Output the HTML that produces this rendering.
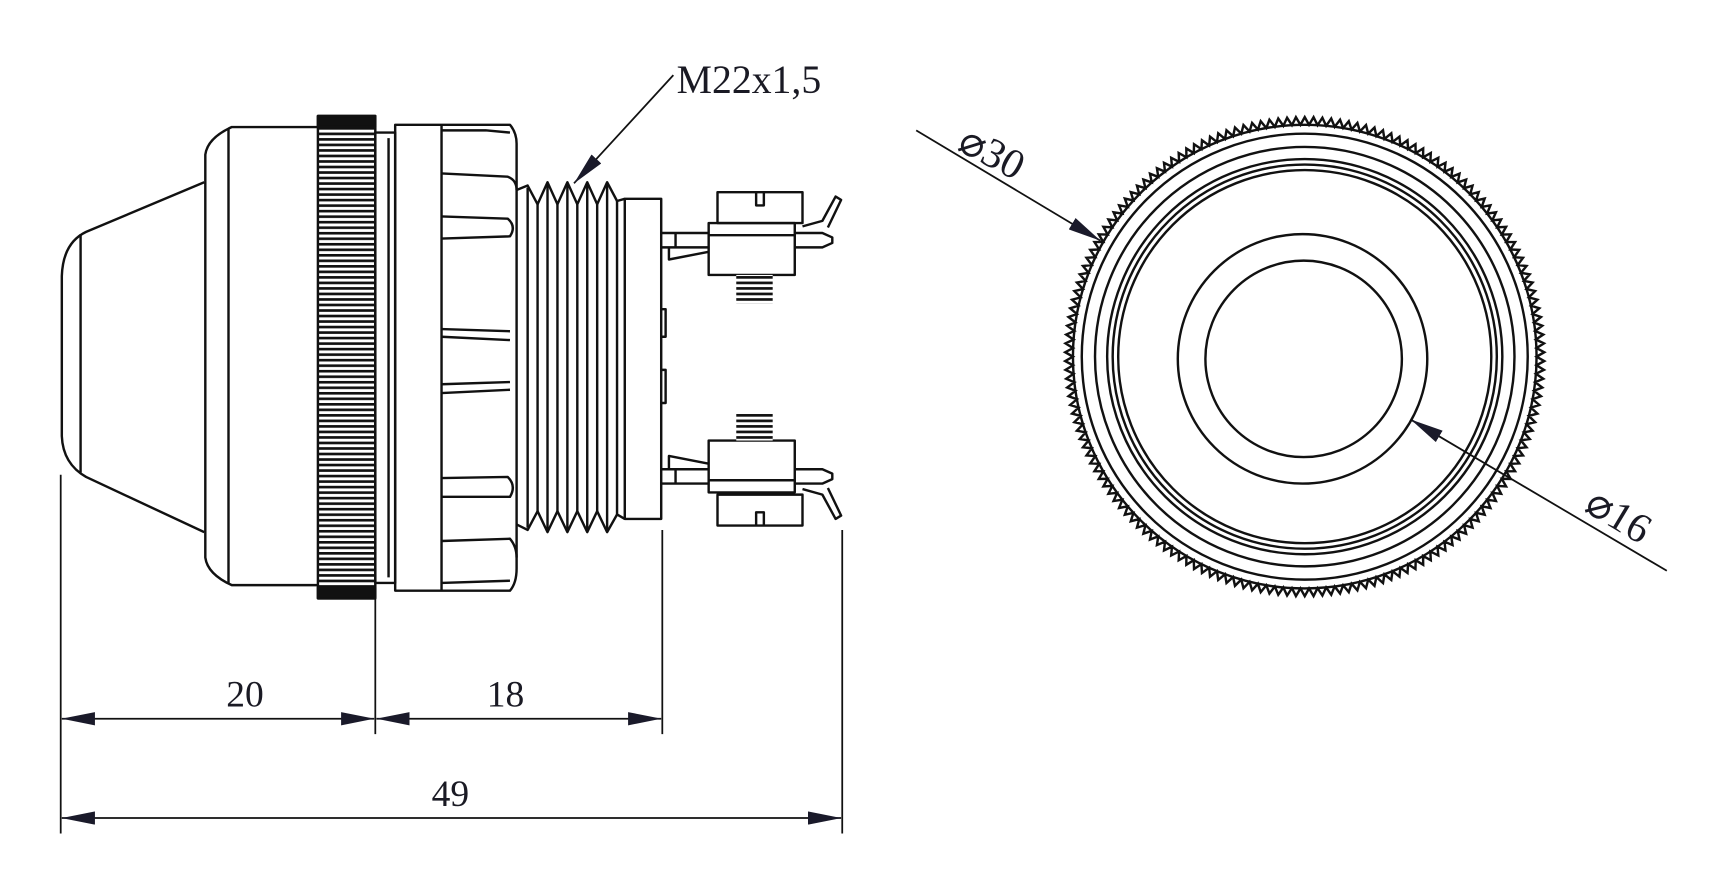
<!DOCTYPE html>
<html><head><meta charset="utf-8">
<style>
html,body{margin:0;padding:0;background:#fff;}
svg{display:block;}
text{font-family:"Liberation Serif",serif;fill:#1a1a24;}
</style></head>
<body>
<svg id="s" width="1722" height="891" viewBox="0 0 1560 807" xmlns="http://www.w3.org/2000/svg">
<defs>
<pattern id="kn" x="0" y="0" width="10" height="5" patternUnits="userSpaceOnUse">
<rect width="10" height="5" fill="#fff"/><rect y="0" width="10" height="2.4" fill="#111"/>
</pattern>
<marker id="ar" viewBox="0 0 30 12" refX="30" refY="6" markerWidth="30" markerHeight="12" markerUnits="userSpaceOnUse" orient="auto-start-reverse">
<path d="M0,0 L30,6 L0,12 z" fill="#1a1a2a"/></marker>
</defs>
<g fill="none" stroke="#111" stroke-width="2.2" stroke-linejoin="round">
<path d="M185,165 L78,210 Q57,220 56,250 L56,395 Q57,420 78,432 L185,482"/>
<line x1="73" y1="212" x2="73" y2="428"/>
<path d="M290,115 L210,115 Q188,125 186,140 L186,505 Q188,520 210,530 L290,530"/>
<line x1="207" y1="116" x2="207" y2="529"/>
<rect x="288" y="105" width="52" height="437" fill="url(#kn)"/>
<rect x="288" y="105" width="52" height="10" fill="#111"/>
<rect x="288" y="532" width="52" height="10" fill="#111"/>
<rect x="340" y="120" width="18" height="408"/>
<line x1="352" y1="125" x2="352" y2="523"/>
<path d="M358,113 L462,113 Q468,120 468,130 L468,515 Q468,528 462,535 L358,535 Z"/>
<line x1="400" y1="113" x2="400" y2="535"/>
<path d="M400,118 L440,118 L462,120 M400,157 L460,160 Q468,163 468,172"/>
<path d="M400,196 L460,198 Q468,205 462,214 L400,216"/>
<path d="M400,298 L462,300 M400,305 L462,308"/>
<path d="M400,348 L462,346 M400,356 L462,353"/>
<path d="M400,433 L460,432 Q468,440 462,450 L400,450"/>
<path d="M400,490 L462,488 Q468,495 468,505 M400,528 L462,526"/>
<path d="M468,172 L478,168 L487,185 L496,165 L505,185 L514,165 L523,185 L532,165 L541,185 L550,165 L559,182 L566,180"/>
<path d="M468,475 L478,480 L487,463 L496,482 L505,463 L514,482 L523,463 L532,482 L541,463 L550,482 L559,466 L566,470"/>
<line x1="478" y1="170" x2="478" y2="478"/><line x1="487" y1="185" x2="487" y2="463"/>
<line x1="496" y1="166" x2="496" y2="481"/><line x1="505" y1="185" x2="505" y2="463"/>
<line x1="514" y1="166" x2="514" y2="481"/><line x1="523" y1="185" x2="523" y2="463"/>
<line x1="532" y1="166" x2="532" y2="481"/><line x1="541" y1="185" x2="541" y2="463"/>
<line x1="550" y1="166" x2="550" y2="481"/><line x1="559" y1="182" x2="559" y2="466"/>
<rect x="566" y="180" width="33" height="290"/>
<path d="M599,280 L603,280 L603,305 L599,305 M599,335 L603,335 L603,365 L599,365"/>
<rect x="650" y="174" width="77" height="28"/>
<path d="M685,174 L685,186 L692,186 L692,174"/>
<rect x="642" y="202" width="78" height="47"/>
<line x1="642" y1="213" x2="720" y2="213"/>
<path d="M599,211 L642,211 M599,224 L642,224 M612,211 L612,224 M720,211 L745,211 L754,215 L754,220 L745,224 L720,224"/>
<path d="M606,224 L606,235 L642,228"/>
<path d="M727,205 L745,200 L757,178 L762,181 L750,206"/>
<rect x="667" y="249" width="33" height="26" fill="url(#kn)" stroke="none"/>
<rect x="650" y="448" width="77" height="28"/>
<path d="M685,476 L685,464 L692,464 L692,476"/>
<rect x="642" y="399" width="78" height="47"/>
<line x1="642" y1="435" x2="720" y2="435"/>
<path d="M599,425 L642,425 M599,438 L642,438 M612,425 L612,438 M720,425 L745,425 L754,429 L754,434 L745,438 L720,438"/>
<path d="M606,425 L606,413 L642,420"/>
<path d="M727,443 L745,448 L757,470 L762,467 L750,442"/>
<rect x="667" y="374" width="33" height="25" fill="url(#kn)" stroke="none"/>
</g>
<g stroke="#111" stroke-width="1.6" fill="none">
<line x1="55" y1="430" x2="55" y2="755"/>
<line x1="340" y1="530" x2="340" y2="665"/>
<line x1="600" y1="480" x2="600" y2="665"/>
<line x1="763" y1="480" x2="763" y2="755"/>
<line x1="56" y1="651" x2="339" y2="651" marker-start="url(#ar)" marker-end="url(#ar)"/>
<line x1="341" y1="651" x2="599" y2="651" marker-start="url(#ar)" marker-end="url(#ar)"/>
<line x1="56" y1="741" x2="762" y2="741" marker-start="url(#ar)" marker-end="url(#ar)"/>
<line x1="610" y1="68" x2="520" y2="166" marker-end="url(#ar)"/>
<line x1="830" y1="118" x2="997" y2="218" marker-end="url(#ar)"/>
<line x1="1510" y1="517" x2="1278" y2="380" marker-end="url(#ar)"/>
</g>
<text x="222" y="640" font-size="34" text-anchor="middle">20</text>
<text x="458" y="640" font-size="34" text-anchor="middle">18</text>
<text x="408" y="730" font-size="34" text-anchor="middle">49</text>
<text x="613" y="84" font-size="36">M22x1,5</text>
<text x="0" y="0" font-size="38" transform="translate(866,135) rotate(28)">⌀30</text>
<text x="0" y="0" font-size="38" transform="translate(1434,462) rotate(31)">⌀16</text>
<g fill="none" stroke="#111" stroke-width="2.2">
<path id="teeth"/>
<circle cx="1182" cy="323" r="210"/>
<circle cx="1182" cy="323" r="202"/>
<circle cx="1182" cy="323" r="190"/>
<circle cx="1182" cy="323" r="179"/>
<circle cx="1182" cy="323" r="174"/>
<circle cx="1182" cy="323" r="169"/>
<circle cx="1180" cy="325" r="113"/>
<circle cx="1181" cy="325" r="89"/>
</g>
</svg>
<script>
(function(){var cx=1182,cy=323,n=170,d="";for(var i=0;i<=n*2;i++){var a=i*Math.PI/n;var r=(i%2)?217:210;var x=cx+r*Math.cos(a),y=cy+r*Math.sin(a);d+=(i?"L":"M")+x.toFixed(1)+","+y.toFixed(1);}document.getElementById("teeth").setAttribute("d",d+"Z");})();
</script>
</body></html>
